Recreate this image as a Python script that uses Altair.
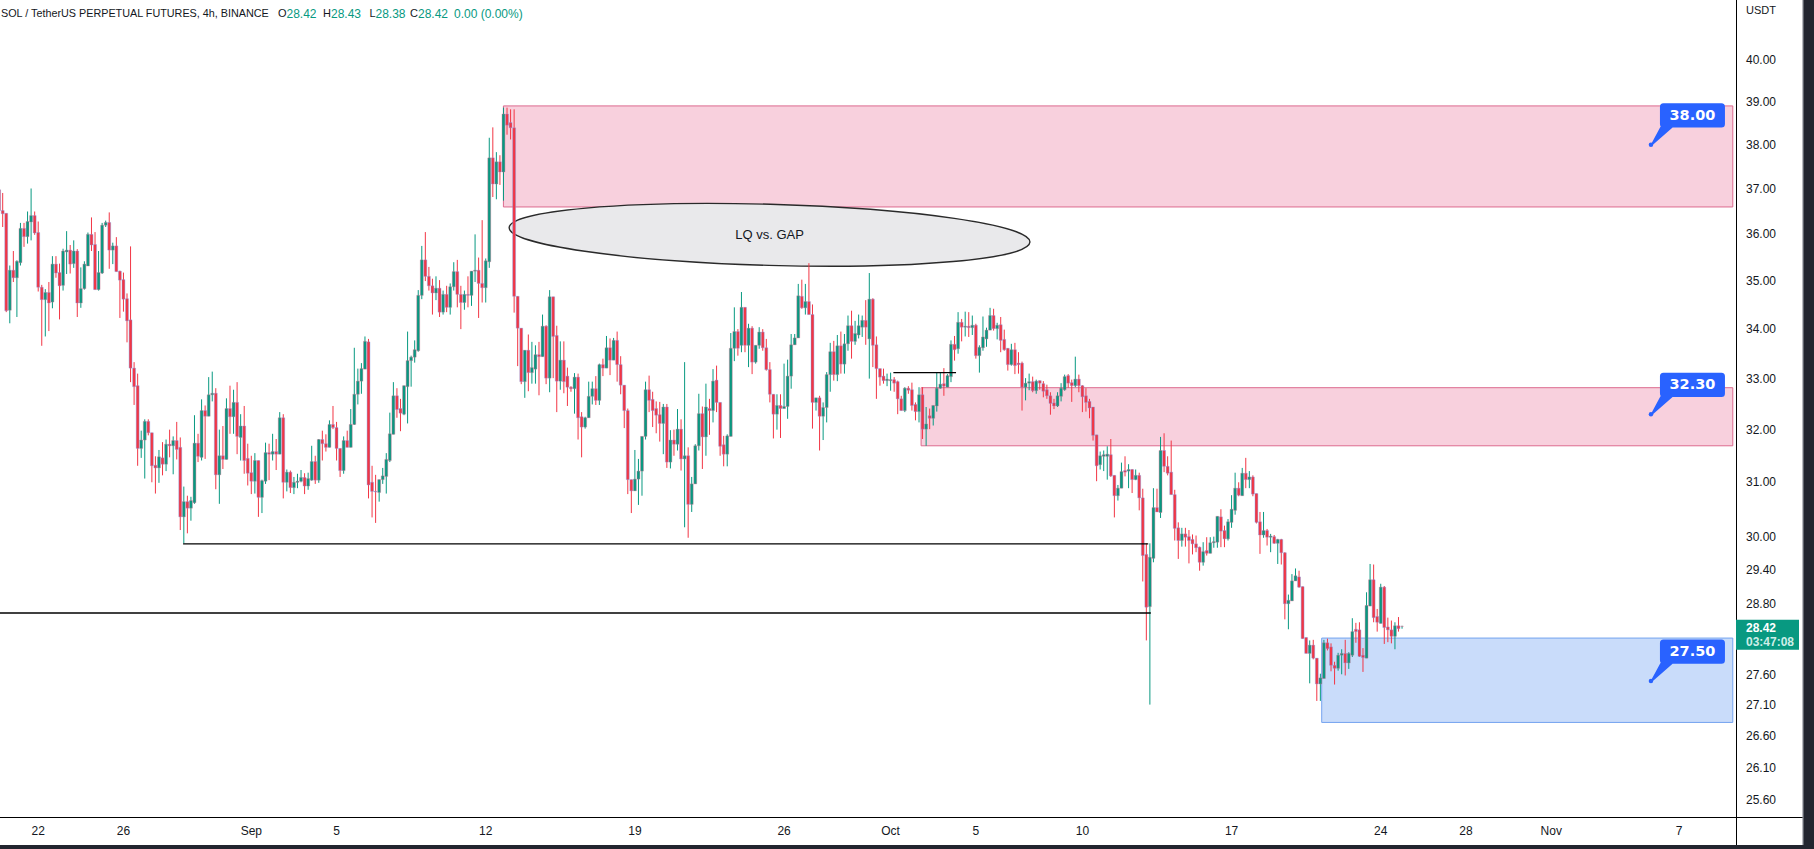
import altair as alt
import pandas as pd

# ---------------- candle data (4h candles, O, H, L, C) ----------------
seg_aug = [
(36.98,37.06,36.40,36.52),(36.52,36.91,36.16,36.45),(36.46,36.46,34.35,34.38),(34.39,35.33,34.12,35.23),
(35.23,35.64,34.98,35.07),(35.07,35.44,34.25,35.42),(35.39,36.25,35.33,36.13),(36.13,36.25,35.73,35.95),
(35.95,36.50,35.80,36.28),(36.27,37.01,35.87,36.41),(36.41,36.50,35.99,36.03),(36.04,36.28,34.78,34.87),
(34.87,34.92,33.66,34.61),(34.61,34.83,33.85,34.76),(34.76,34.98,33.96,34.54),(34.56,35.53,34.43,35.36),
(35.36,35.53,35.07,35.17),(35.18,35.37,34.20,34.90),(34.91,35.69,34.80,35.64),(35.62,36.07,35.15,35.66),
(35.66,35.77,35.16,35.36),(35.37,35.87,35.28,35.64),(35.64,35.68,34.25,34.54),(34.54,35.29,34.44,34.84),
(34.84,35.42,34.82,35.36),(35.32,36.04,35.32,36.00),(36.00,36.37,35.64,35.77),(35.78,36.05,34.82,34.82),
(34.82,35.64,34.80,35.18),(35.17,36.25,35.15,36.20),(36.20,36.30,36.16,36.26),(36.26,36.48,35.26,35.66),
(35.66,35.82,35.36,35.75),(35.75,35.94,35.20,35.20),(35.21,35.22,34.23,35.02),(35.03,35.18,34.36,34.62),
(34.63,34.74,33.73,34.17),(34.19,35.74,32.93,33.21),(33.21,33.33,32.48,32.84),(32.86,33.10,31.31,31.64),
(31.64,31.98,31.46,31.80),(31.80,32.20,31.07,32.16),(32.16,32.20,31.89,31.94),(31.94,31.94,31.00,31.31),
(31.32,31.49,30.79,31.27),(31.27,31.61,30.99,31.48),(31.46,31.76,31.13,31.34),(31.34,31.81,31.21,31.72),
(31.72,32.00,31.47,31.69),(31.69,31.87,31.15,31.79),(31.79,32.15,31.43,31.62),(31.66,31.85,30.12,30.36),
(30.36,30.92,29.88,30.64),(30.64,30.75,30.06,30.52),(30.52,30.73,30.29,30.66),(30.62,32.28,30.60,31.74),
(31.74,31.92,31.38,31.49),(31.47,32.59,31.41,32.37),(32.37,32.47,31.44,32.26),(32.26,33.03,32.26,32.68),
(32.68,33.14,32.55,32.71),(32.71,32.81,30.87,31.14),(31.14,32.00,30.60,31.50),(31.50,32.07,31.25,31.43),
(31.43,32.61,31.43,32.41),(32.41,32.86,31.92,32.25),(32.25,32.78,31.92,32.53),(32.53,32.93,31.53,31.87),
]
seg_sep_a = [
(31.85,32.30,31.41,32.07),(32.07,32.46,31.16,31.41),(31.45,31.73,30.94,31.17),(31.18,31.50,30.78,31.02),
(31.02,31.55,30.79,31.41),(31.41,31.41,30.36,30.72),(30.72,31.05,30.43,31.03),(31.02,31.75,30.97,31.56),
(31.56,31.73,31.04,31.53),(31.53,31.92,31.41,31.58),(31.58,31.82,31.23,31.53),(31.53,32.34,31.53,32.23),
(32.23,32.30,30.70,31.00),(31.00,31.24,30.83,31.19),(31.19,31.22,30.80,30.90),(30.90,31.10,30.78,31.00),
(31.00,31.16,30.89,31.02),(31.02,31.23,31.00,31.09),(31.09,31.17,30.78,30.93),(30.93,31.18,30.86,31.07),
(31.04,31.69,31.03,31.39),(31.39,31.50,30.97,31.04),(31.04,31.82,30.99,31.81),(31.81,31.98,31.41,31.73),
(31.73,31.91,31.58,31.66),(31.66,32.18,31.66,32.10),(32.10,32.46,32.01,32.04),(32.04,32.15,31.41,31.64),
(31.64,31.64,31.10,31.22),(31.22,31.87,31.16,31.79),(31.79,31.98,31.66,31.66),(31.66,32.40,31.66,32.10),
(32.10,33.62,32.09,32.69),(32.69,33.20,32.49,32.95),(32.95,33.31,32.70,33.20),(33.19,33.85,33.19,33.75),
(33.74,33.80,30.70,30.95),(31.00,31.31,30.35,30.83),(30.83,31.14,30.25,30.82),(30.81,31.05,30.64,31.05),
(31.05,31.27,30.97,31.12),(31.11,31.55,30.79,31.43),(31.41,32.33,31.38,31.92),(31.91,32.93,31.91,32.66),
(32.66,32.81,32.23,32.39),(32.41,32.60,31.97,32.32),(32.30,32.86,32.28,32.86),(32.84,33.95,32.12,33.36),
(33.36,33.46,32.84,33.43),(33.43,33.77,33.32,33.58),(33.56,34.81,33.54,34.70),
]
seg_sep_b = [
(34.70,35.75,34.62,35.45),(35.45,36.05,35.00,35.10),(35.10,35.30,34.80,34.90),(34.90,35.05,34.30,34.75),
(34.75,35.10,34.60,34.85),(34.85,35.02,34.25,34.35),(34.35,34.80,34.30,34.72),(34.72,34.90,34.35,34.45),
(34.45,34.95,34.30,34.88),(34.88,35.40,34.80,35.20),(35.20,35.45,34.45,34.72),(34.72,34.90,34.00,34.55),
(34.55,34.80,34.40,34.72),(34.72,35.10,34.45,34.70),
]
seg_sep_c = [
(34.70,35.21,34.48,35.21),(35.21,36.00,34.98,35.23),(35.23,35.50,34.23,34.95),(34.95,36.31,34.55,34.86),
(34.86,35.48,34.55,35.43),(35.41,38.16,35.28,37.70),(37.70,38.40,36.82,37.11),(37.11,37.83,36.77,37.61),
(37.61,37.76,37.09,37.38),(37.38,38.86,36.74,38.71),(38.71,38.86,38.23,38.45),(38.51,38.82,38.12,38.39),
(38.39,38.82,34.34,34.68),(34.68,34.68,33.25,34.02),(34.02,34.02,32.89,32.94),(32.94,33.57,32.62,33.57),
(33.57,33.89,32.75,33.12),(33.12,33.74,32.90,33.22),(33.19,33.67,32.90,33.48),(33.48,33.74,32.67,33.44),
(33.44,34.30,33.44,34.06),(34.06,34.08,32.89,33.01),(33.01,34.81,32.73,34.67),(34.67,34.67,33.01,33.85),
(33.87,34.07,32.34,32.95),(32.95,33.75,32.78,33.37),(33.37,33.75,32.71,32.94),(33.05,33.22,32.46,32.83),
(32.83,32.85,32.74,32.80),(32.80,33.11,32.31,33.03),(33.03,33.10,31.81,32.23),(32.25,32.34,31.47,32.05),
(32.05,32.25,32.02,32.23),(32.23,32.94,32.23,32.65),(32.65,32.94,32.49,32.80),(32.80,33.05,32.48,32.57),
(32.57,33.30,32.48,33.28),(33.28,33.40,33.05,33.21),(33.21,33.86,33.21,33.62),(33.62,33.81,33.07,33.37),
(33.37,33.82,33.37,33.77),(33.77,33.95,32.94,33.28),(33.28,33.45,32.69,32.87),(32.87,32.87,32.03,32.37),
(32.37,32.41,30.78,31.05),(31.05,31.05,30.43,30.84),(30.84,31.61,30.84,31.06),(31.06,31.44,30.58,31.21),
(31.21,31.87,30.75,31.87),(31.87,32.94,31.81,32.78),(32.78,33.06,32.34,32.57),(32.59,32.74,32.05,32.37),
(32.41,32.55,31.93,32.28),(32.29,32.54,31.77,32.12),(32.12,32.50,31.53,32.44),(32.44,32.50,31.27,31.38),
(31.38,31.99,31.26,31.80),(31.80,32.00,31.50,31.72),(31.72,32.40,31.60,32.01),(32.01,32.20,31.22,31.44),
(31.44,33.33,30.17,31.50),(31.50,31.66,29.98,30.59),(30.59,31.10,30.45,30.97),(30.97,31.72,30.97,31.69),
(31.69,32.70,31.60,32.31),(32.31,32.45,31.25,31.86),(31.86,32.90,31.50,32.44),
]
seg_sep_d = [
(32.41,32.60,31.90,32.37),(32.37,33.19,32.14,32.95),(32.97,33.26,32.34,32.53),(32.53,32.53,31.50,31.68),
(31.71,31.88,31.30,31.53),(31.53,31.91,31.30,31.88),(31.87,33.92,31.87,33.61),(33.61,34.45,33.35,33.95),
(33.95,34.00,33.46,33.61),(33.67,34.77,33.53,34.45),(34.45,34.45,33.53,33.67),(33.67,34.11,33.23,34.02),
(34.02,34.06,33.09,33.33),(33.33,33.67,33.30,33.67),(33.67,34.04,33.60,33.94),(33.94,34.00,33.56,33.62),
(33.62,33.80,33.16,33.18),(33.18,33.33,32.53,32.69),(32.69,32.69,31.83,32.30),(32.30,32.69,32.00,32.47),
(32.47,32.69,31.84,32.41),(32.41,33.30,32.41,32.45),(32.45,33.38,32.21,33.05),(33.05,33.90,32.80,33.68),
(33.68,33.90,33.68,33.82),(33.82,34.94,33.82,34.69),(34.68,35.03,34.42,34.44),(34.44,34.94,34.30,34.57),
(34.57,35.38,34.30,34.30),(34.30,34.51,32.02,32.53),(32.53,32.62,32.37,32.62),(32.62,32.66,31.60,32.26),
(32.26,32.53,31.80,32.43),(32.43,33.13,32.14,33.08),(33.08,33.72,32.74,33.54),(33.54,33.76,32.96,33.08),
(33.08,33.88,32.95,33.66),(33.66,33.95,33.10,33.29),(33.29,33.90,33.10,33.70),(33.70,34.28,33.56,34.07),
(34.07,34.38,33.40,33.75),(33.75,34.17,33.68,33.91),(33.88,34.30,33.81,34.07),(34.04,34.28,33.84,34.18),
(34.18,34.60,33.68,34.04),(33.80,35.17,33.00,34.62),(34.62,34.64,33.23,33.67),(33.68,33.85,32.60,33.20),
(33.20,33.20,32.86,33.03),(33.05,33.20,32.90,32.96),(32.96,33.10,32.85,32.99),(32.96,33.12,32.76,32.98),
(32.98,33.03,32.74,32.91),(32.94,32.96,32.30,32.60),(32.60,32.66,32.37,32.37),(32.37,32.83,32.34,32.81),
(32.81,32.85,32.70,32.77),(32.78,32.92,32.37,32.47),(32.49,32.53,32.18,32.35),(32.35,32.83,32.14,32.68),
(32.68,32.83,31.82,32.01),(32.01,32.44,31.69,32.11),(32.27,32.41,32.01,32.22),(32.22,32.47,32.08,32.47),
(32.46,33.13,32.35,32.81),(32.81,33.13,32.80,32.89),
]
seg_oct_a = [
(32.90,33.21,32.66,32.85),(32.83,33.09,32.83,33.06),(33.04,33.77,32.93,33.69),(33.69,33.86,33.36,33.58),
(33.60,34.35,33.50,34.14),(34.14,34.21,33.75,34.04),(34.04,34.36,33.85,34.06),(34.06,34.35,33.84,34.03),
(34.03,34.28,33.88,34.08),(34.08,34.11,33.40,33.46),(33.46,33.67,33.12,33.63),(33.62,34.26,33.56,33.84),
(33.80,34.03,33.64,33.98),(33.98,34.44,33.98,34.28),(34.28,34.42,33.97,34.01),(34.01,34.13,33.79,34.08),
(34.09,34.25,33.53,33.77),(33.79,33.99,33.56,33.58),(33.61,33.61,33.16,33.28),(33.28,33.70,33.26,33.58),
(33.58,33.72,33.09,33.26),(33.31,33.53,33.10,33.28),(33.31,33.34,32.37,32.83),(32.83,33.01,32.57,32.91),
(32.91,33.10,32.77,32.94),(32.94,33.04,32.73,32.76),(32.76,32.98,32.70,32.95),(32.96,32.96,32.78,32.91),
(32.90,32.95,32.63,32.75),(32.78,32.88,32.60,32.66),(32.66,32.73,32.29,32.51),(32.52,32.60,32.40,32.46),
(32.46,32.73,32.44,32.66),(32.65,32.91,32.55,32.81),(32.78,33.08,32.76,33.04),(33.06,33.09,32.82,32.91),
(32.92,32.98,32.54,32.86),(32.86,33.44,32.83,32.99),(32.99,33.08,32.73,32.86),(32.86,32.87,32.34,32.64),
(32.66,32.81,32.35,32.53),(32.55,32.60,32.22,32.42),(32.44,32.44,31.79,31.89),(31.90,31.90,31.02,31.31),
(31.33,31.58,31.24,31.50),(31.49,31.60,31.21,31.52),(31.49,31.68,31.05,31.53),(31.52,31.82,31.10,31.12),
(31.13,31.13,30.35,30.75),(30.75,30.95,30.66,30.89),(30.89,31.37,30.89,31.20),(31.22,31.49,31.11,31.19),
(31.21,31.34,30.89,31.24),(31.24,31.25,30.80,31.05),(31.05,31.24,31.04,31.13),(31.13,31.18,30.48,30.71),
(30.71,30.88,29.20,29.66),(29.68,29.88,28.18,28.75),(28.76,29.88,27.11,29.63),(29.61,30.89,29.54,30.53),
(30.53,30.88,30.45,30.45),(30.44,31.86,30.34,31.60),(31.60,31.93,31.19,31.30),(31.30,31.49,31.13,31.17),
(31.19,31.79,30.77,30.77),(30.77,30.86,29.93,30.15),
]
seg_oct_b = [
(30.16,30.26,29.60,29.93),(29.93,30.16,29.82,30.05),(30.05,30.16,29.82,29.99),(30.00,30.12,29.52,29.93),
(29.95,30.04,29.68,29.87),(29.87,30.02,29.72,29.80),(29.81,29.82,29.39,29.54),(29.54,29.90,29.48,29.73),
(29.75,29.99,29.66,29.70),(29.70,29.99,29.70,29.89),(29.89,30.00,29.80,29.91),(29.90,30.37,29.80,30.37),
(30.36,30.50,29.81,30.10),(30.11,30.20,29.81,29.96),(29.96,30.32,29.93,30.27),(30.26,30.76,30.16,30.50),
(30.48,31.18,30.40,30.89),(30.89,31.00,30.74,30.76),(30.75,31.27,30.75,31.17),(31.17,31.46,30.89,31.05),
(31.05,31.21,30.89,31.10),(31.10,31.13,30.74,30.78),(30.79,30.79,30.24,30.26),(30.27,30.45,29.69,30.03),
(30.03,30.45,29.98,30.11),(30.11,30.14,29.84,29.99),(29.99,30.05,29.72,30.01),(30.00,30.03,29.87,29.88),
(29.88,29.96,29.51,29.95),(29.95,29.96,29.50,29.71),(29.71,29.72,28.54,28.81),(28.81,28.97,28.37,28.87),
(28.86,29.33,28.86,29.21),(29.21,29.43,29.21,29.30),(29.28,29.39,29.09,29.10),(29.11,29.11,28.21,28.21),
(28.23,28.23,27.96,27.96),(27.96,28.18,27.46,28.10),(28.10,28.19,27.86,27.88),(27.88,27.88,27.17,27.45),
(27.45,27.62,27.17,27.55),(27.54,28.19,27.54,28.14),(28.14,28.21,28.01,28.04),(28.07,28.13,27.66,27.76),
(27.76,27.82,27.44,27.71),(27.71,27.97,27.67,27.93),(27.93,28.03,27.61,27.96),(27.96,28.19,27.59,27.80),
(27.80,27.98,27.70,27.96),(27.93,28.56,27.90,28.33),(28.37,28.48,28.14,28.33),(28.36,28.49,27.90,27.91),
(27.93,28.05,27.65,27.89),(27.88,29.01,27.88,28.78),(28.77,29.51,28.77,29.23),(29.23,29.50,28.49,28.57),
(28.59,28.72,28.33,28.49),(28.47,29.16,28.47,29.10),(29.10,29.12,28.12,28.40),(28.41,28.57,28.15,28.36),
(28.36,28.52,28.13,28.25),(28.25,28.49,28.03,28.43),(28.43,28.58,28.33,28.38),(28.42,28.43,28.38,28.42),
]
first_candle = -11          # 4h candles counted from Aug 22 00:00 (day 0)

# ---------------- axes ----------------
tick_days = [0, 4, 10, 14, 21, 28, 35, 40, 44, 49, 56, 63, 67, 71, 77]
tick_labels = ["22", "26", "Sep", "5", "12", "19", "26", "Oct", "5", "10", "17", "24", "28", "Nov", "7"]
price_ticks = [40, 39, 38, 37, 36, 35, 34, 33, 32, 31, 30, 29.4, 28.8, 27.6, 27.1, 26.6, 26.1, 25.6]

# ---------------- drawings ----------------
zone_start = [21.83, 41.43, 60.23]
zone_end = [79.52, 79.52, 79.52]
zone_low = [36.60, 31.69, 26.82]
zone_high = [38.90, 32.82, 28.22]
zone_kind = ["supply", "supply", "demand"]

hline_start = [6.80, -1.80, 40.13]
hline_end = [52.09, 52.21, 43.07]
hline_price = [29.87, 28.65, 33.12]

ellipse_day, ellipse_price, ellipse_text = [34.32], [35.99], ["LQ vs. GAP"]

callout_day = [75.68, 75.68, 75.68]
callout_price = [38.00, 32.30, 27.50]

# ---------------- build tables ----------------
rows = []
k = first_candle
for seg in [seg_aug, seg_sep_a, seg_sep_b, seg_sep_c, seg_sep_d, seg_oct_a, seg_oct_b]:
    for o, h, l, c in seg:
        rows.append(dict(t=k / 6.0, o=o, h=max(h, o, c), l=min(l, o, c), c=c,
                         dir="up" if c >= o else "down"))
        k += 1
candles = pd.DataFrame(rows)
last = rows[-1]

zones = pd.DataFrame(dict(t0=zone_start, t1=zone_end, lo=zone_low, hi=zone_high, kind=zone_kind))
hlines = pd.DataFrame(dict(t0=hline_start, t1=hline_end, p=hline_price))
ell = pd.DataFrame(dict(t=ellipse_day, p=ellipse_price, txt=ellipse_text))
calls = pd.DataFrame(dict(t=callout_day, p=callout_price,
                          txt=[f"{v:.2f}" for v in callout_price]))
xticks = pd.DataFrame(dict(t=tick_days, txt=tick_labels))
yticks = pd.DataFrame(dict(p=price_ticks, txt=[f"{v:.2f}" for v in price_ticks]))

W, H = 1736, 817
GREEN, RED = "#089981", "#f23645"
DARK = "#131722"
FONT = "Liberation Sans"

xs = alt.Scale(domain=[-1.793, 79.671], nice=False, zero=False, padding=0)
ys = alt.Scale(type="log", domain=[25.333, 41.466], nice=False, zero=False, padding=0)
cscale = alt.Scale(domain=["up", "down"], range=[GREEN, RED])

def X(f):
    return alt.X(f, scale=xs, axis=None)

def Y(f):
    return alt.Y(f, scale=ys, axis=None)

zone_layer = alt.Chart(zones).mark_rect(strokeWidth=1).encode(
    x=X("t0:Q"), x2="t1:Q", y=Y("lo:Q"), y2="hi:Q",
    fill=alt.Fill("kind:N", scale=alt.Scale(domain=["supply", "demand"], range=["#f8d0dd", "#c9dcfa"]), legend=None),
    stroke=alt.Stroke("kind:N", scale=alt.Scale(domain=["supply", "demand"], range=["#dc6a8e", "#74a3ef"]), legend=None),
)

kb = 0.1173
kk = 0.5523
ellipse_path = (f"M -1 0 C -1 {-kk*kb:.4f} {-kk:.4f} {-kb:.4f} 0 {-kb:.4f} "
                f"C {kk:.4f} {-kb:.4f} 1 {-kk*kb:.4f} 1 0 "
                f"C 1 {kk*kb:.4f} {kk:.4f} {kb:.4f} 0 {kb:.4f} "
                f"C {-kk:.4f} {kb:.4f} -1 {kk*kb:.4f} -1 0 Z")
ellipse_layer = alt.Chart(ell).mark_point(
    shape=ellipse_path, size=521 ** 2, filled=True, fill="#e9e9eb", stroke="#2a2a2a",
    strokeWidth=1.4, opacity=1, angle=1.6
).encode(x=X("t:Q"), y=Y("p:Q"))
ellipse_text_layer = alt.Chart(ell).mark_text(
    font=FONT, fontSize=13, color=DARK, align="center", baseline="middle"
).encode(x=X("t:Q"), y=Y("p:Q"), text="txt:N")

wicks = alt.Chart(candles).mark_rule(strokeWidth=1).encode(
    x=X("t:Q"), y=Y("l:Q"), y2="h:Q",
    color=alt.Color("dir:N", scale=cscale, legend=None),
)
bodies = alt.Chart(candles).mark_bar(size=2.9, strokeWidth=0.4).encode(
    x=X("t:Q"), y=Y("o:Q"), y2="c:Q",
    color=alt.Color("dir:N", scale=cscale, legend=None),
    stroke=alt.Stroke("dir:N", scale=cscale, legend=None),
)

hline_layer = alt.Chart(hlines).mark_rule(color="#000000", strokeWidth=1.3).encode(
    x=X("t0:Q"), x2="t1:Q", y=Y("p:Q"))

def rbox(x0, y0, x1, y1, r):
    return (f"M {x0+r:.4f} {y0:.4f} L {x1-r:.4f} {y0:.4f} Q {x1:.4f} {y0:.4f} {x1:.4f} {y0+r:.4f} "
            f"L {x1:.4f} {y1-r:.4f} Q {x1:.4f} {y1:.4f} {x1-r:.4f} {y1:.4f} "
            f"L {x0+r:.4f} {y1:.4f} Q {x0:.4f} {y1:.4f} {x0:.4f} {y1-r:.4f} "
            f"L {x0:.4f} {y0+r:.4f} Q {x0:.4f} {y0:.4f} {x0+r:.4f} {y0:.4f} Z")

callout_path = rbox(0.09, -0.414, 0.74, -0.172, 0.035) + " M -0.008 0.012 L 0.095 -0.18 L 0.225 -0.18 L 0.014 0.006 Z"
callout_shape = alt.Chart(calls).mark_point(
    shape=callout_path, size=40000, filled=True, color="#2962ff", opacity=1, strokeWidth=0
).encode(x=X("t:Q"), y=Y("p:Q"))
callout_dot = alt.Chart(calls).mark_point(
    shape="circle", size=20, filled=True, color="#2962ff", opacity=1
).encode(x=X("t:Q"), y=Y("p:Q"))
callout_text = alt.Chart(calls).mark_text(
    font="DejaVu Sans", fontSize=14.5, fontWeight="bold", color="white",
    align="center", baseline="middle", dx=41.5, dy=-29
).encode(x=X("t:Q"), y=Y("p:Q"), text="txt:N")

# axis labels drawn through the same scales
x_labels = alt.Chart(xticks).mark_text(
    font=FONT, fontSize=12, color=DARK, align="center", baseline="middle"
).encode(x=X("t:Q"), y=alt.value(831), text="txt:N")
y_labels = alt.Chart(yticks).mark_text(
    font=FONT, fontSize=12, color=DARK, align="left", baseline="middle"
).encode(x=alt.value(1746), y=Y("p:Q"), text="txt:N")

one = pd.DataFrame({"v": [0]})
last_close = last["c"]
price_box = alt.Chart(one).mark_rect(color=GREEN, yOffset=-6.5, y2Offset=23.5).encode(
    x=alt.value(1736), x2=alt.value(1799),
    y=alt.Y(datum=last_close, scale=ys, axis=None), y2=alt.Y2(datum=last_close))
price_txt1 = alt.Chart(one).mark_text(
    font=FONT, fontSize=12, fontWeight="bold", color="white", align="left", baseline="middle", dy=1.5
).encode(x=alt.value(1746), y=alt.Y(datum=last_close, scale=ys, axis=None), text=alt.value(f"{last_close:.2f}"))
price_txt2 = alt.Chart(one).mark_text(
    font=FONT, fontSize=12, fontWeight="bold", color="#cdeee8", align="left", baseline="middle", dy=16
).encode(x=alt.value(1746), y=alt.Y(datum=last_close, scale=ys, axis=None), text=alt.value("03:47:08"))

# frame lines and window border
frame_v = alt.Chart(one).mark_rule(color="#000000", strokeWidth=1).encode(
    x=alt.value(1736.5), y=alt.value(0), y2=alt.value(845))
frame_h = alt.Chart(one).mark_rule(color="#000000", strokeWidth=1).encode(
    x=alt.value(0), x2=alt.value(1803), y=alt.value(817.5))
border_r = alt.Chart(one).mark_rect(color="#22252f").encode(
    x=alt.value(1803), x2=alt.value(1814), y=alt.value(0), y2=alt.value(849))
border_b = alt.Chart(one).mark_rect(color="#22252f").encode(
    x=alt.value(0), x2=alt.value(1814), y=alt.value(845), y2=alt.value(849))
border_line = alt.Chart(one).mark_rule(color="#8a8d96", strokeWidth=1.2).encode(
    x=alt.value(1803), y=alt.value(0), y2=alt.value(845))

usdt = alt.Chart(one).mark_text(font=FONT, fontSize=11, color=DARK, align="left", baseline="middle").encode(
    x=alt.value(1746), y=alt.value(11), text=alt.value("USDT"))

# header
chg = last["c"] - last["o"]
pct = chg / last["o"] * 100
header_parts = [
    ("SOL / TetherUS PERPETUAL FUTURES, 4h, BINANCE", DARK, 1, "left", 10.8),
    ("O", DARK, 278, "left", 11), (f"{last['o']:.2f}", GREEN, 286.5, "left", 12),
    ("H", DARK, 323, "left", 11), (f"{last['h']:.2f}", GREEN, 331, "left", 12),
    ("L", DARK, 369.5, "left", 11), (f"{last['l']:.2f}", GREEN, 375.5, "left", 12),
    ("C", DARK, 410, "left", 11), (f"{last['c']:.2f}", GREEN, 418, "left", 12),
    (f"{chg:.2f} ({pct:.2f}%)", GREEN, 454, "left", 12),
]
header_layers = [
    alt.Chart(one).mark_text(font=FONT, fontSize=fs, color=col, align=al, baseline="middle").encode(
        x=alt.value(xp), y=alt.value(14), text=alt.value(txt))
    for txt, col, xp, al, fs in header_parts
]

chart = alt.layer(
    zone_layer, ellipse_layer, ellipse_text_layer, wicks, bodies, hline_layer,
    callout_shape, callout_dot, callout_text,
    frame_v, frame_h, x_labels, y_labels, price_box, price_txt1, price_txt2, usdt,
    border_r, border_b, border_line, *header_layers
).properties(
    width=W, height=H,
    autosize=alt.AutoSizeParams(type="none"),
    padding={"left": 0, "top": 0, "right": 78, "bottom": 32},
    background="white",
).configure_view(stroke=None)

chart.save("out.html", embed_options={"renderer": "svg", "actions": False})
